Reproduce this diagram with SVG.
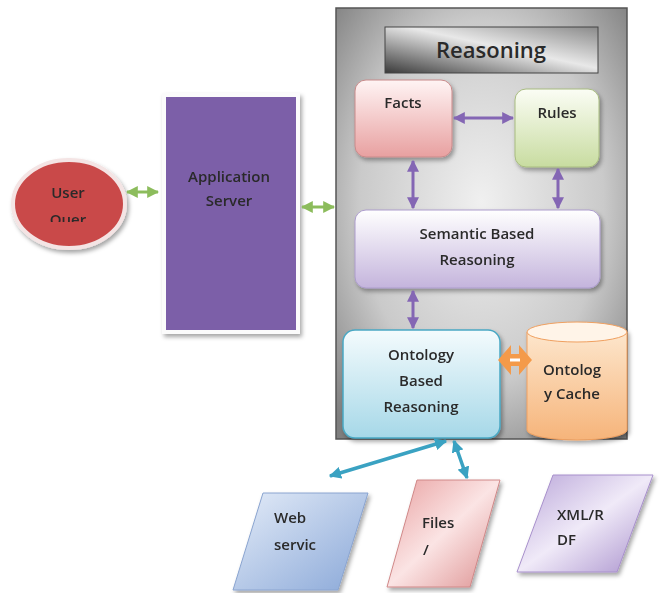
<svg xmlns="http://www.w3.org/2000/svg" width="660" height="593" viewBox="0 0 660 593">
<defs>
<radialGradient id="gCont" cx="0.5" cy="0.45" r="0.7">
<stop offset="0" stop-color="#f0f0f0"/><stop offset="0.6" stop-color="#cacaca"/><stop offset="1" stop-color="#7e7e7e"/>
</radialGradient>
<linearGradient id="gTitle" x1="0" y1="1" x2="1" y2="0">
<stop offset="0" stop-color="#3a3a3a"/><stop offset="0.55" stop-color="#e8e8e8"/><stop offset="1" stop-color="#8a8a8a"/>
</linearGradient>
<linearGradient id="gFacts" x1="0" y1="0" x2="0" y2="1"><stop offset="0" stop-color="#fff4f4"/><stop offset="1" stop-color="#e8a0a0"/></linearGradient>
<linearGradient id="gRules" x1="0" y1="0" x2="0" y2="1"><stop offset="0" stop-color="#fbfdf5"/><stop offset="1" stop-color="#c8dca0"/></linearGradient>
<linearGradient id="gSem" x1="0" y1="0" x2="0" y2="1"><stop offset="0" stop-color="#ffffff"/><stop offset="1" stop-color="#c4b4dc"/></linearGradient>
<linearGradient id="gOnt" x1="0" y1="0" x2="0" y2="1"><stop offset="0" stop-color="#f4fbfd"/><stop offset="1" stop-color="#a6d8e8"/></linearGradient>
<linearGradient id="gCyl" x1="0" y1="0" x2="0" y2="1"><stop offset="0" stop-color="#fde6cc"/><stop offset="1" stop-color="#f6b47a"/></linearGradient>
<linearGradient id="gWeb" x1="0" y1="0" x2="1" y2="1"><stop offset="0" stop-color="#e4ecf8"/><stop offset="1" stop-color="#8aa8d8"/></linearGradient>
<linearGradient id="gFiles" x1="0" y1="0" x2="1" y2="1"><stop offset="0" stop-color="#e8a0a0"/><stop offset="0.5" stop-color="#fbe4e4"/><stop offset="1" stop-color="#dc9090"/></linearGradient>
<linearGradient id="gXml" x1="0" y1="0" x2="1" y2="1"><stop offset="0" stop-color="#b8a4d8"/><stop offset="0.5" stop-color="#f0eaf8"/><stop offset="1" stop-color="#a890cc"/></linearGradient>
<marker id="aP" viewBox="0 0 10 10" refX="9" refY="5" markerWidth="4" markerHeight="4" orient="auto-start-reverse"><path d="M0,0 L10,5 L0,10 z" fill="#8466b4"/></marker>
<marker id="aG" viewBox="0 0 10 10" refX="9" refY="5" markerWidth="4" markerHeight="4" orient="auto-start-reverse"><path d="M0,0 L10,5 L0,10 z" fill="#8cbc5c"/></marker>
<marker id="aB" viewBox="0 0 10 10" refX="9" refY="5" markerWidth="3.5" markerHeight="3.5" orient="auto-start-reverse"><path d="M0,0 L10,5 L0,10 z" fill="#3aa2c2"/></marker>
<clipPath id="clipQ"><rect x="20" y="200" width="100" height="22"/></clipPath>
<filter id="sh" x="-10%" y="-10%" width="130%" height="130%"><feDropShadow dx="2" dy="3" stdDeviation="2" flood-color="#000" flood-opacity="0.35"/></filter>
</defs>
<style>
text{font-family:"Open Sans","Liberation Sans",sans-serif;fill:#2a2a2a;text-anchor:middle;font-weight:600}
.t{font-size:15px}
.p{stroke:#8466b4;stroke-width:3;fill:none}
.g{stroke:#8cbc5c;stroke-width:3;fill:none}
.b{stroke:#3aa2c2;stroke-width:3.5;fill:none}
.l{text-anchor:start}
</style>
<rect width="660" height="593" fill="#fff"/>

<g id="reasoning-container">
<rect x="336" y="8" width="291" height="431" fill="url(#gCont)" stroke="#555" stroke-width="1.5"/>
</g>
<g id="reasoning-title">
<rect x="385" y="27" width="213" height="46" fill="url(#gTitle)" stroke="#444" stroke-width="1"/>
<text x="491" y="58" style="font-size:22px" fill="#111">Reasoning</text>
</g>

<g id="user-query" filter="url(#sh)">
<ellipse cx="69" cy="204" rx="56" ry="44" fill="#c94848" stroke="#f4e4e4" stroke-width="4"/>
<text class="t" x="68" y="198">User</text>
<text class="t" x="68" y="225" clip-path="url(#clipQ)">Quer</text>
</g>

<g id="application-server" filter="url(#sh)">
<rect x="164" y="95" width="134" height="237" fill="#7b5ea8" stroke="#fbfbfb" stroke-width="4"/>
<text class="t" x="229" y="182">Application</text>
<text class="t" x="229" y="206">Server</text>
</g>

<g id="facts" filter="url(#sh)">
<rect x="355" y="80" width="97" height="77" rx="11" fill="url(#gFacts)" stroke="#c88a8a" stroke-width="1"/>
<text class="t" x="403" y="108">Facts</text>
</g>
<g id="rules" filter="url(#sh)">
<rect x="515" y="89" width="84" height="78" rx="11" fill="url(#gRules)" stroke="#a8bc80" stroke-width="1"/>
<text class="t" x="557" y="118">Rules</text>
</g>
<g id="semantic-based-reasoning" filter="url(#sh)">
<rect x="355" y="210" width="245" height="78" rx="11" fill="url(#gSem)" stroke="#ac9ccc" stroke-width="1"/>
<text class="t" x="477" y="239">Semantic Based</text>
<text class="t" x="477" y="265">Reasoning</text>
</g>
<g id="ontology-based-reasoning" filter="url(#sh)">
<rect x="343" y="330" width="157" height="108" rx="12" fill="url(#gOnt)" stroke="#4aa8c4" stroke-width="1.5"/>
<text class="t" x="421" y="360">Ontology</text>
<text class="t" x="421" y="386">Based</text>
<text class="t" x="421" y="412">Reasoning</text>
</g>
<g id="ontology-cache" filter="url(#sh)">
<path d="M527,332 L527,430 A50,10 0 0 0 627,430 L627,332" fill="url(#gCyl)" stroke="#f0a060" stroke-width="1"/>
<ellipse cx="577" cy="332" rx="50" ry="10" fill="#fff4e8" stroke="#f0a060" stroke-width="1"/>
<text class="t" x="572" y="375">Ontolog</text>
<text class="t" x="572" y="399">y Cache</text>
</g>

<g id="web-service" filter="url(#sh)">
<polygon points="263,493 368,493 338,590 233,590" fill="url(#gWeb)" stroke="#8aa4d0" stroke-width="1"/>
<text class="t l" x="274" y="523">Web</text>
<text class="t l" x="274" y="550">servic</text>
</g>
<g id="files" filter="url(#sh)">
<polygon points="417,480 500,480 470,587 387,587" fill="url(#gFiles)" stroke="#d08888" stroke-width="1"/>
<text class="t l" x="422" y="528">Files</text>
<text class="t l" x="423" y="555">/</text>
</g>
<g id="xml-rdf" filter="url(#sh)">
<polygon points="553,475 653,475 617,572 517,572" fill="url(#gXml)" stroke="#a890cc" stroke-width="1"/>
<text class="t l" x="557" y="520">XML/R</text>
<text class="t l" x="557" y="545">DF</text>
</g>

<g id="connectors">
<line class="g" x1="127" y1="192" x2="158" y2="192" marker-start="url(#aG)" marker-end="url(#aG)"/>
<line class="g" x1="302" y1="207" x2="334" y2="207" marker-start="url(#aG)" marker-end="url(#aG)"/>
<line class="p" x1="454" y1="118" x2="513" y2="118" marker-start="url(#aP)" marker-end="url(#aP)"/>
<line class="p" x1="413" y1="161" x2="413" y2="208" marker-start="url(#aP)" marker-end="url(#aP)"/>
<line class="p" x1="558" y1="169" x2="558" y2="208" marker-start="url(#aP)" marker-end="url(#aP)"/>
<line class="p" x1="413" y1="291" x2="413" y2="328" marker-start="url(#aP)" marker-end="url(#aP)"/>
<path d="M498,360 L511,345 L511,354 L519,354 L519,345 L532,360 L519,375 L519,366 L511,366 L511,375 Z" fill="#f49a4a"/>
<line x1="510" y1="360" x2="520" y2="360" stroke="#fff" stroke-width="3"/>
<line class="b" x1="446" y1="441" x2="330" y2="476" marker-start="url(#aB)" marker-end="url(#aB)"/>
<line class="b" x1="454" y1="441" x2="467" y2="478" marker-start="url(#aB)" marker-end="url(#aB)"/>
</g>
</svg>
